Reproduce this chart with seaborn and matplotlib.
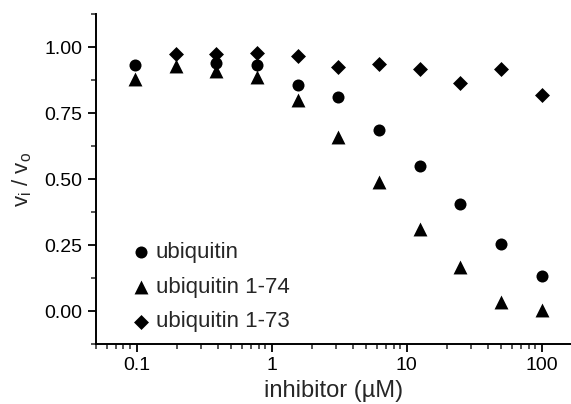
import numpy as np
import pandas as pd
import matplotlib
matplotlib.use("Agg")
import matplotlib.pyplot as plt
import seaborn as sns
from matplotlib.ticker import LogLocator, FixedLocator, MultipleLocator, FuncFormatter

# inhibitor concentrations (uM), twofold dilutions from 100
conc = [0.098, 0.195, 0.39, 0.78, 1.5625, 3.125, 6.25, 12.5, 25, 50, 100]

# points hidden behind other markers in the original are left out (nan)
ubiquitin = [0.932, np.nan, 0.938, 0.932, 0.857, 0.812, 0.687, 0.548, 0.404, 0.252, 0.132]
ubiquitin_1_74 = [0.878, 0.928, 0.91, 0.887, 0.80, 0.66, 0.488, 0.312, 0.165, 0.035, 0.004]
ubiquitin_1_73 = [np.nan, 0.972, 0.972, 0.976, 0.966, 0.925, 0.937, 0.916, 0.864, 0.916, 0.819]

series = ["ubiquitin", "ubiquitin 1-74", "ubiquitin 1-73"]
markers = {"ubiquitin": "o", "ubiquitin 1-74": "^", "ubiquitin 1-73": "D"}
sizes = {"ubiquitin": 75, "ubiquitin 1-74": 100, "ubiquitin 1-73": 58}

df = pd.DataFrame({
    "conc": conc * 3,
    "ratio": ubiquitin + ubiquitin_1_74 + ubiquitin_1_73,
    "inhibitor": [s for s in series for _ in conc],
})

sns.set_style("ticks")
plt.rcParams["font.family"] = ["Liberation Sans", "DejaVu Sans"]
plt.rcParams["mathtext.default"] = "regular"

fig = plt.figure(figsize=(5.71, 4.04), dpi=100)
ax = fig.add_axes([0.168, 0.1485, 0.832, 0.8168])

for name in series:
    sub = df[df["inhibitor"] == name]
    sns.scatterplot(data=sub, x="conc", y="ratio", marker=markers[name], s=sizes[name],
                    color="black", edgecolor="black", linewidth=0, label=name, ax=ax)

ax.set_xscale("log")
ax.set_xlim(0.05, 165)
ax.set_ylim(-0.125, 1.125)

ax.xaxis.set_major_locator(FixedLocator([0.1, 1, 10, 100]))
ax.xaxis.set_minor_locator(LogLocator(base=10, subs=np.arange(2, 10)))
ax.xaxis.set_major_formatter(FuncFormatter(lambda v, p: f"{v:g}"))
ax.xaxis.set_minor_formatter(FuncFormatter(lambda v, p: ""))
ax.yaxis.set_major_locator(FixedLocator([0, 0.25, 0.5, 0.75, 1.0]))
ax.yaxis.set_minor_locator(MultipleLocator(0.125))
ax.yaxis.set_major_formatter(FuncFormatter(lambda v, p: f"{v:.2f}"))

ax.tick_params(which="major", direction="out", length=6, width=1.3, labelsize=14, colors="black")
ax.tick_params(which="minor", direction="out", length=3.5, width=1.1)
ax.tick_params(axis="x", which="major", pad=3)

for side in ["left", "bottom"]:
    ax.spines[side].set_linewidth(1.4)
    ax.spines[side].set_color("black")
sns.despine(ax=ax)

ax.set_xlabel("inhibitor (\u00b5M)", fontsize=17, labelpad=5)
ax.set_ylabel(r"v$_{i}$ / v$_{o}$", fontsize=16, labelpad=8)

ax.legend(loc="lower left", bbox_to_anchor=(0.049, 0.008), frameon=False, fontsize=16,
          handletextpad=0.05, labelspacing=0.62, borderaxespad=0, handlelength=1.2)

fig.savefig("out.png", dpi=100)
